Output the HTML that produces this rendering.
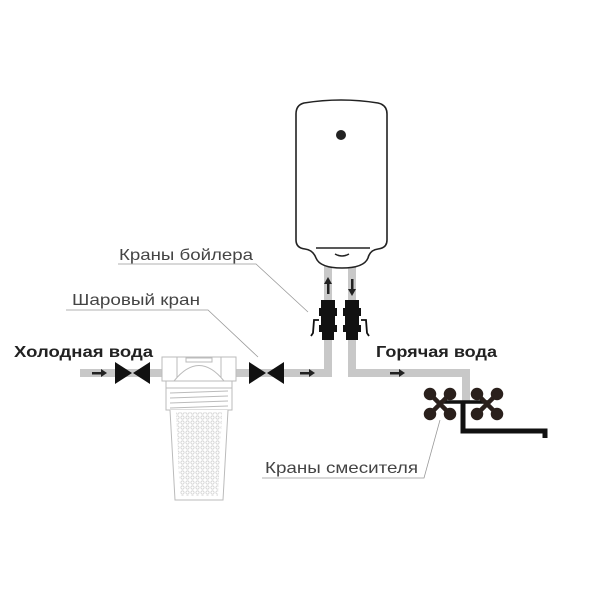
<!DOCTYPE html>
<html><head><meta charset="utf-8"><style>
html,body{margin:0;padding:0;background:#fff;width:600px;height:600px;overflow:hidden}
svg text{font-family:"Liberation Sans","DejaVu Sans",sans-serif}
</style></head><body>
<svg width="600" height="600" viewBox="0 0 600 600" xmlns="http://www.w3.org/2000/svg">
<g fill="none" stroke="#c8c8c8" stroke-width="8">
<path d="M80 373 H328 V262"/>
<path d="M352 262 V373 H466 V402"/>
</g>
<path d="M304 103 Q341 97 378 103 Q387 105 387 114 V240 Q387 248 378 249 Q370 250 368 258 Q364 268 342 268 Q320 268 316 258 Q313 250 305 249 Q296 248 296 240 V114 Q296 105 304 103 Z" fill="#fff" stroke="#222" stroke-width="1.6"/>
<line x1="316" y1="248" x2="370" y2="248" stroke="#222" stroke-width="1.6"/>
<path d="M335 254 Q342 258 349 254" fill="none" stroke="#222" stroke-width="1.5"/>
<circle cx="341" cy="135" r="5" fill="#222"/>
<g fill="#222">
<rect x="327" y="282" width="2.5" height="12"/><polygon points="324,284 328,277 332,284"/>
<rect x="351" y="279" width="2.5" height="12"/><polygon points="348,289 352,296 356,289"/>
</g>
<g fill="#111">
<rect x="321" y="300" width="14" height="8"/><rect x="319" y="308" width="18" height="8"/><rect x="321" y="316" width="14" height="9"/><rect x="319" y="325" width="18" height="7"/><rect x="322" y="332" width="12" height="8"/>
<rect x="345" y="300" width="14" height="8"/><rect x="343" y="308" width="18" height="8"/><rect x="345" y="316" width="14" height="9"/><rect x="343" y="325" width="18" height="7"/><rect x="346" y="332" width="12" height="8"/>
</g>
<path d="M319 320 H314 L313 333 L311 336" fill="none" stroke="#111" stroke-width="1.8"/>
<path d="M361 320 H366 L367 333 L369 336" fill="none" stroke="#111" stroke-width="1.8"/>
<g fill="#222">
<rect x="92" y="372" width="10" height="2.5"/><polygon points="101,369 107,373 101,377"/>
<rect x="300" y="372" width="10" height="2.5"/><polygon points="309,369 315,373 309,377"/>
<rect x="390" y="372" width="10" height="2.5"/><polygon points="399,369 405,373 399,377"/>
</g>
<g fill="#111">
<polygon points="115,362 132,373 115,384"/><polygon points="150,362 133,373 150,384"/>
<polygon points="249,362 266,373 249,384"/><polygon points="284,362 267,373 284,384"/>
</g>
<g fill="#fff" stroke="#bbb" stroke-width="1">
<rect x="162" y="357" width="74" height="24"/>
<rect x="177" y="357" width="44" height="24"/>
<path d="M174 381 Q199 350 224 381" />
<rect x="186" y="358" width="26" height="4"/>
<rect x="166" y="381" width="66" height="7"/>
<rect x="166" y="388" width="66" height="22"/>
<path d="M170 393 L228 391 M170 398 L228 396 M170 403 L228 401 M170 408 L228 406"/>
<path d="M170 410 L175 500 H223 L228 410"/>
</g>
<defs><pattern id="dots" width="5" height="5" patternUnits="userSpaceOnUse"><circle cx="2.5" cy="2.5" r="1.6" fill="none" stroke="#ccc" stroke-width="0.7"/></pattern></defs>
<path d="M176 412 L180 496 H218 L222 412 Z" fill="url(#dots)"/>
<g fill="none" stroke="#111" stroke-linecap="butt">
<path d="M440 402 H488" stroke-width="3.5"/>
<path d="M463 402 V431 H545 V438" stroke-width="5"/>
</g>
<g stroke="#2a201c" stroke-width="4.5" fill="#2a201c">
<path d="M431 395 L449 413 M449 395 L431 413"/>
<path d="M478 395 L496 413 M496 395 L478 413"/>
<circle cx="430" cy="394" r="4"/><circle cx="450" cy="394" r="4"/><circle cx="430" cy="414" r="4"/><circle cx="450" cy="414" r="4"/>
<circle cx="477" cy="394" r="4"/><circle cx="497" cy="394" r="4"/><circle cx="477" cy="414" r="4"/><circle cx="497" cy="414" r="4"/>
</g>
<g stroke="#999" stroke-width="0.8" fill="none">
<path d="M118 264 H256 L308 312"/>
<path d="M66 310 H208 L258 357"/>
<path d="M262 478 H424 L440 420"/>
</g>
<g fill="#444" font-size="16">
<text x="119" y="260" textLength="134" lengthAdjust="spacingAndGlyphs">Краны бойлера</text>
<text x="72" y="305" textLength="128" lengthAdjust="spacingAndGlyphs">Шаровый кран</text>
<text x="265" y="473" textLength="153" lengthAdjust="spacingAndGlyphs">Краны смесителя</text>
</g>
<g fill="#222" font-size="16" font-weight="bold">
<text x="14" y="357" textLength="139" lengthAdjust="spacingAndGlyphs">Холодная вода</text>
<text x="376" y="357" textLength="121" lengthAdjust="spacingAndGlyphs">Горячая вода</text>
</g>
</svg>
</body></html>
